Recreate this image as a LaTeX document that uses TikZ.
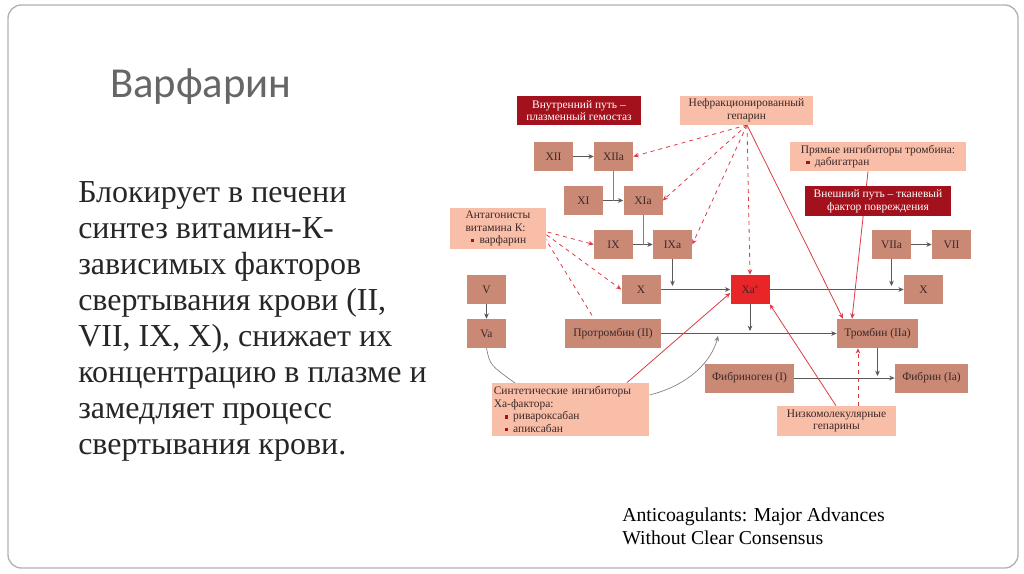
\documentclass[tikz,border=0pt]{standalone}
\usepackage{fontspec}
\setmainfont{Liberation Serif}
\newfontfamily\titlefont{Carlito}
\usetikzlibrary{arrows.meta}
\pgfdeclarelayer{bg}
\pgfsetlayers{bg,main}
\definecolor{boxc}{RGB}{201,137,117}
\definecolor{lightc}{RGB}{248,190,168}
\definecolor{darkc}{RGB}{163,17,28}
\definecolor{xac}{RGB}{232,38,40}
\definecolor{redl}{RGB}{222,60,70}
\definecolor{txt}{RGB}{60,40,40}
\newcommand\sqb{\textcolor{darkc}{\rule[1pt]{2.5pt}{2.5pt}}\hspace{4pt}}
\tikzset{
 fb/.style={fill=boxc,text=txt,inner sep=1pt,align=center,font=\fontsize{8.6}{9.5}\selectfont,minimum height=21.75pt},
 lb/.style={fill=lightc,text=txt,inner sep=2pt,font=\fontsize{8.6}{9.5}\selectfont},
 db/.style={fill=darkc,text=white,inner sep=1pt,align=center,font=\fontsize{8.6}{9.5}\selectfont},
 blk/.style={draw=gray!70!black,line width=0.5pt,-{Stealth[length=4pt,width=3.5pt]}},
 rd/.style={draw=redl,line width=0.6pt,dashed,-{Stealth[length=4pt,width=3.5pt]}},
 rs/.style={draw=redl,line width=0.6pt,-{Stealth[length=4pt,width=3.5pt]}},
 gc/.style={draw=gray,line width=0.5pt},
}
\begin{document}
\begin{tikzpicture}[x=0.75pt,y=-0.75pt]
\useasboundingbox (0,0) rectangle (1024,574);
\begin{pgfonlayer}{bg}
\fill[white] (0,0) rectangle (1024,574);
\draw[gray!60,line width=1pt,rounded corners=10pt] (8,5) rectangle (1018,568);
\end{pgfonlayer}
\node[anchor=west,font=\titlefont\fontsize{32}{36}\selectfont,text=gray!80!black,inner sep=0pt] (title) at (110,87) {Варфарин};
\node[anchor=north west,align=left,font=\fontsize{24}{27}\selectfont,text=black!85,inner sep=0pt] (body) at (78,181) {Блокирует в печени\\синтез витамин-К-\\зависимых факторов\\свертывания крови (II,\\VII, IX, X), снижает их\\концентрацию в плазме и\\замедляет процесс\\свертывания крови.};
\node[anchor=north west,align=left,font=\fontsize{14.8}{17}\selectfont,inner sep=0pt] (cap) at (622,508) {Anticoagulants: Major Advances\\Without Clear Consensus};

\node[db,minimum width=93pt,minimum height=22pt] (int) at (579,110.5) {Внутренний путь –\\плазменный гемостаз};
\node[lb,align=center,minimum width=100pt,minimum height=22pt,inner sep=1pt] (unf) at (746.5,110.5) {Нефракционированный\\гепарин};
\node[fb,minimum width=29.25pt] (XII) at (553.5,156.5) {XII};
\node[fb,minimum width=29.25pt] (XIIa) at (613.5,156.5) {XIIa};
\node[fb,minimum width=29.25pt] (XI) at (583.5,200.5) {XI};
\node[fb,minimum width=29.25pt] (XIa) at (643,200.5) {XIa};
\node[lb,align=left,minimum width=72pt,minimum height=31pt,inner sep=1pt] (ant) at (498,228.5) {Антагонисты\\витамина К:\\\hspace*{4pt}\sqb варфарин};
\node[fb,minimum width=29.25pt] (IX) at (613.5,244.5) {IX};
\node[fb,minimum width=29.25pt] (IXa) at (672.5,244.5) {IXa};
\node[fb,minimum width=29.25pt] (V) at (486.5,289.5) {V};
\node[fb,minimum width=29.25pt] (Va) at (486.5,333.5) {Va};
\node[fb,minimum width=29.25pt] (X) at (641,289.5) {X};
\node[fb,fill=xac,minimum width=29.25pt] (Xa) at (750,289.5) {Xa\textsuperscript{\tiny a}};
\node[fb,minimum width=29.25pt] (X2) at (923.5,289.5) {X};
\node[fb,minimum width=29.25pt] (VIIa) at (891.5,244.5) {VIIa};
\node[fb,minimum width=29.25pt] (VII) at (951.5,244.5) {VII};
\node[lb,align=left,minimum width=132pt,minimum height=22pt,inner sep=1pt] (dir) at (878,156.5) {Прямые ингибиторы тромбина:\\\hspace*{4pt}\sqb дабигатран};
\node[db,minimum width=109.5pt,minimum height=22.5pt] (ext) at (878,201) {Внешний путь – тканевый\\фактор повреждения};
\node[fb,minimum width=72pt] (pro) at (613,333.5) {Протромбин (II)};
\node[fb,minimum width=61pt] (thr) at (877.5,333.5) {Тромбин (IIa)};
\node[fb,minimum width=67pt] (fbg) at (749.5,378) {Фибриноген (I)};
\node[fb,minimum width=55pt] (fbn) at (931.5,378) {Фибрин (Ia)};
\node[lb,align=left,text width=115pt,minimum height=40pt,inner sep=1.5pt] (syn) at (570.5,409.5) {Синтетические ингибиторы\\Ха-фактора:\\\hspace*{8pt}\sqb ривароксабан\\\hspace*{8pt}\sqb апиксабан};
\node[lb,align=center,minimum width=89pt,minimum height=22.5pt,inner sep=1pt] (lmw) at (836.5,421) {Низкомолекулярные\\гепарины};

\begin{pgfonlayer}{bg}
\draw[blk] (XII) -- (XIIa);
\draw[blk] (XI) -- (XIa);
\draw[gc] (XIIa.south) -- (XIIa.south |- XIa.west);
\draw[blk] (IX) -- (IXa);
\draw[gc] (XIa.south) -- (XIa.south |- IXa.west);
\draw[blk] (X) -- (Xa);
\draw[blk] (IXa.south) -- (IXa.south |- 0,286);
\draw[blk] (Xa) -- (X2);
\draw[blk] (VIIa.south) -- (VIIa.south |- 0,286);
\draw[blk] (VIIa) -- (VII);
\draw[blk] (V) -- (Va);
\draw[blk] (pro) -- (thr);
\draw[blk] (Xa.south) -- (Xa.south |- 0,331);
\draw[blk] (fbg) -- (fbn);
\draw[blk] (thr.south) -- (thr.south |- 0,376);
\draw[gc] (Va.south) .. controls (490,365) .. (515,383);
\draw[gc,-{Stealth[length=4pt,width=3.5pt]}] (syn.east |- 0,395) .. controls (690,385) and (712,360) .. (718,336);
\draw[rs] (syn.north -| 627,0) -- (Xa.west |- 0,293);
\draw[rs] (lmw.north -| 836,0) -- (Xa.south east);
\draw[rd] (lmw.north -| 858,0) -- (thr.south -| 858,0);
\coordinate (hp) at (747,125);
\draw[rd] (hp) -- (XIIa.east);
\draw[rd] (hp) -- (XIa.east);
\draw[rd] (hp) -- (IXa.east);
\draw[rd] (hp) -- (Xa.north);
\draw[rs] (hp) -- (thr.north -| 843,0);
\draw[rs] (dir.south -| 868,0) -- (thr.north -| 852,0);
\coordinate (ap) at (540,230);
\draw[rd] (ap) -- (IX.west);
\draw[rd] (ap) -- (X.west);
\draw[redl,line width=0.6pt,dashed] (ap) -- (pro.north -| 594,0);
\end{pgfonlayer}
\end{tikzpicture}
\end{document}
